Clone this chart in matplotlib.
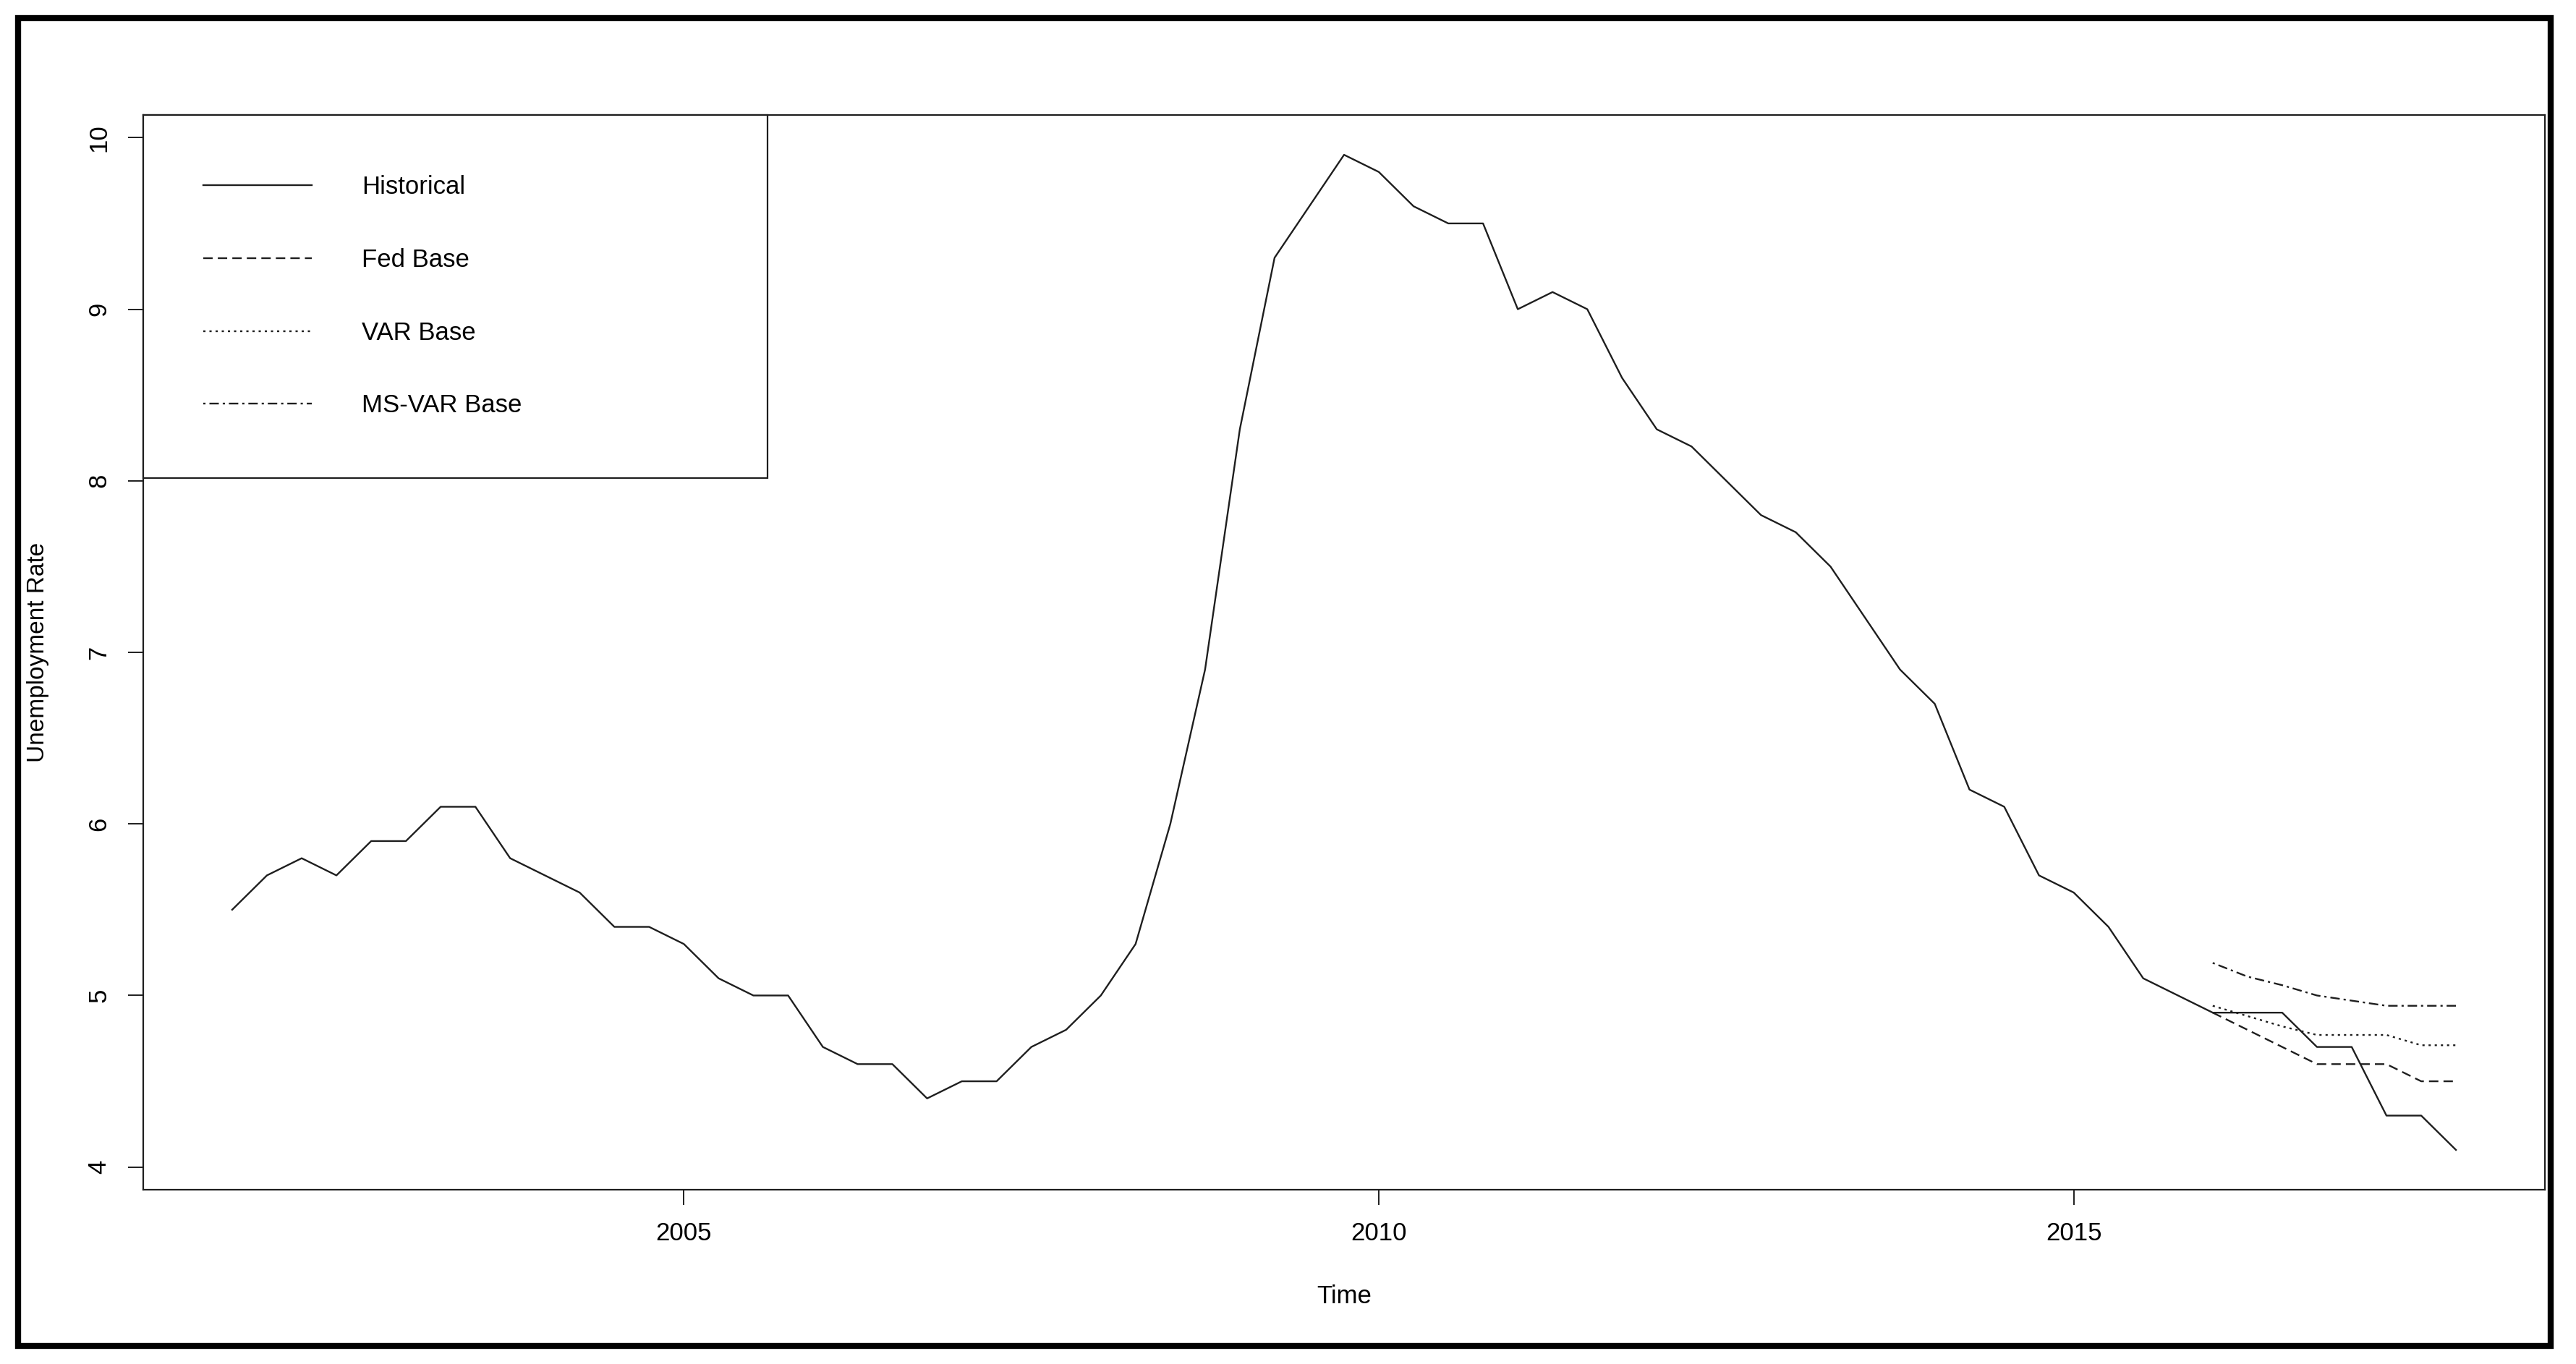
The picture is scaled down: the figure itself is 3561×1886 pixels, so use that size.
import numpy as np
import matplotlib.pyplot as plt
from matplotlib.patches import Rectangle

plt.rcParams['font.family'] = ['Liberation Sans', 'DejaVu Sans']

# quarterly unemployment rate, 2001 Q4 .. 2017 Q4
start_year = 2001.75
historical = [5.5,
              5.7, 5.8, 5.7, 5.9,
              5.9, 6.1, 6.1, 5.8,
              5.7, 5.6, 5.4, 5.4,
              5.3, 5.1, 5.0, 5.0,
              4.7, 4.6, 4.6, 4.4,
              4.5, 4.5, 4.7, 4.8,
              5.0, 5.3, 6.0, 6.9,
              8.3, 9.3, 9.6, 9.9,
              9.8, 9.6, 9.5, 9.5,
              9.0, 9.1, 9.0, 8.6,
              8.3, 8.2, 8.0, 7.8,
              7.7, 7.5, 7.2, 6.9,
              6.7, 6.2, 6.1, 5.7,
              5.6, 5.4, 5.1, 5.0,
              4.9, 4.9, 4.9, 4.7,
              4.7, 4.3, 4.3, 4.1]

# forecasts, 2016 Q1 .. 2017 Q4
fc_start = 2016.0
fed_base = [4.90, 4.80, 4.70, 4.60, 4.60, 4.60, 4.50, 4.50]
var_base = [4.94, 4.88, 4.82, 4.77, 4.77, 4.77, 4.71, 4.71]
msvar_base = [5.19, 5.11, 5.06, 5.00, 4.97, 4.94, 4.94, 4.94]

labels = ['Historical', 'Fed Base', 'VAR Base', 'MS-VAR Base']
x_ticks = [2005, 2010, 2015]
y_ticks = [4, 5, 6, 7, 8, 9, 10]

t_hist = start_year + 0.25 * np.arange(len(historical))
t_fc = fc_start + 0.25 * np.arange(len(fed_base))

fig = plt.figure(figsize=(35.61, 18.86), dpi=100)
ax = fig.add_axes([198 / 3561, 1 - 1645 / 1886, 3320 / 3561, 1486 / 1886])

lw = 1.7
col = '#1e1e1e'
ax.plot(t_hist, historical, color=col, lw=lw, label=labels[0])
ax.plot(t_fc, fed_base, color=col, lw=lw, ls=(0, (5.5, 3)), label=labels[1])
ax.plot(t_fc, var_base, color=col, lw=lw, ls=(0, (1.3, 2.3)), label=labels[2])
ax.plot(t_fc, msvar_base, color=col, lw=lw, ls=(0, (1.3, 2.3, 5.5, 2.3)), label=labels[3])

# R style 4% padding on both axes
xr = t_hist[-1] - t_hist[0]
ax.set_xlim(t_hist[0] - 0.04 * xr, t_hist[-1] + 0.04 * xr)
yr = max(historical) - min(historical)
ax.set_ylim(min(historical) - 0.04 * yr, max(historical) + 0.04 * yr)

ax.set_xticks(x_ticks)
ax.set_yticks(y_ticks)
ax.tick_params(axis='both', length=15, width=1.4, labelsize=25, color=col)
ax.tick_params(axis='x', pad=17)
ax.tick_params(axis='y', pad=17, labelrotation=90)
for lab in ax.get_yticklabels():
    lab.set_va('center')
for s in ax.spines.values():
    s.set_linewidth(1.6)
    s.set_color(col)

ax.set_xlabel('Time', fontsize=25, va='center')
ax.xaxis.set_label_coords(0.5, -(1793 - 1645) / 1486)
ax.set_ylabel('Unemployment Rate', fontsize=24, va='center')
ax.yaxis.set_label_coords(-(198 - 52) / 3320, 0.5)

leg = ax.legend(loc='upper left', bbox_to_anchor=(0, 0, 863 / 3320, 1), mode='expand',
                borderaxespad=0, fontsize=25, frameon=True, fancybox=False,
                edgecolor=col, framealpha=1, borderpad=2.4, labelspacing=1.95,
                handlelength=4.3, handletextpad=2.0)
leg.get_frame().set_linewidth(1.6)

# outer frame around the whole picture
fig.patches.append(Rectangle((25 / 3561, 25 / 1886), (3526 - 25) / 3561, (1861 - 25) / 1886,
                             transform=fig.transFigure, fill=False, lw=6, ec='black'))

fig.savefig('out.png', dpi=100)
